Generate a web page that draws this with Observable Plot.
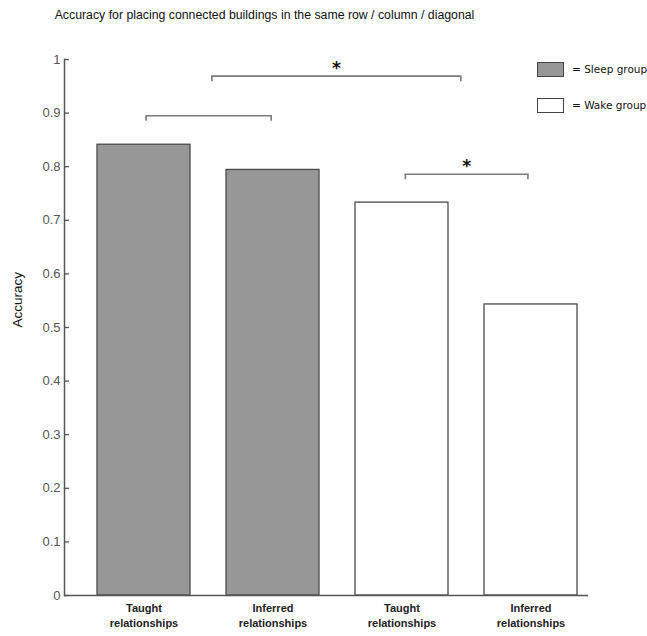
<!DOCTYPE html>
<html>
<head>
<meta charset="utf-8">
<script src="https://cdn.jsdelivr.net/npm/d3@7"></script>
<script src="https://cdn.jsdelivr.net/npm/@observablehq/plot@0.6"></script>
<style>
  html, body { margin: 0; padding: 0; background: #fff; }
  #wrap { position: relative; width: 647px; height: 636px; overflow: hidden; font-family: "Liberation Sans", Arial, sans-serif; }
  #title { position: absolute; left: 0; width: 529px; top: 8px; text-align: center; font-size: 12.3px; color: #111; }
  .leg { position: absolute; left: 537px; width: 27px; height: 15px; border: 1px solid #444; box-sizing: border-box; }
  .legt { position: absolute; left: 572px; font-family: "DejaVu Sans", sans-serif; font-size: 10.5px; color: #111; line-height: 15px; white-space: nowrap; }
  #chart { position: absolute; left: 0; top: 0; }
</style>
</head>
<body>
<div id="wrap">
  <div id="chart"></div>
  <div id="title">Accuracy for placing connected buildings in the same row / column / diagonal</div>
</div>
<script>
// ---- data ----
const keys = ["sleep-taught", "sleep-inferred", "wake-taught", "wake-inferred"];
const labels = ["Taught\nrelationships", "Inferred\nrelationships", "Taught\nrelationships", "Inferred\nrelationships"];
const groups = ["Sleep group", "Sleep group", "Wake group", "Wake group"];
const accuracy = [0.841, 0.794, 0.733, 0.543];
const yTicks = [0, 0.1, 0.2, 0.3, 0.4, 0.5, 0.6, 0.7, 0.8, 0.9, 1];
const legendGroups = ["Sleep group", "Wake group"];
const groupFill = ["#979797", "#ffffff"];
// significance brackets (positions in bar-index units)
const bracketFrom = [0.02, 0.53, 2.03];
const bracketTo = [0.99, 2.46, 2.98];
const bracketLevel = [0.894, 0.968, 0.785];
const bracketStar = [false, true, true];

const data = keys.map((k, i) => ({key: k, label: labels[i], group: groups[i], value: accuracy[i]}));
const labelOf = Object.fromEntries(keys.map((k, i) => [k, labels[i]]));

function brackets(index, scales, values, dimensions) {
  const xs = scales.x, ys = scales.y;
  const c0 = xs(keys[0]), step = xs(keys[1]) - xs(keys[0]);
  const bw = xs.bandwidth ? xs.bandwidth() : scales.scales.x.bandwidth;
  const px = p => c0 + bw / 2 + p * step;
  const g = d3.create("svg:g");
  bracketFrom.forEach((f, i) => {
    const x1 = px(f), x2 = px(bracketTo[i]), y = ys(bracketLevel[i]);
    g.append("path")
      .attr("d", `M${x1},${y + 5}V${y}H${x2}V${y + 5}`)
      .attr("fill", "none").attr("stroke", "#7a7a7a").attr("stroke-width", 1.6);
    if (bracketStar[i]) {
      g.append("text")
        .attr("x", (x1 + x2) / 2).attr("y", y - 2)
        .attr("text-anchor", "middle")
        .attr("font-family", "DejaVu Sans, sans-serif")
        .attr("font-weight", "bold").attr("font-size", 17).attr("fill", "#111")
        .text("*");
    }
  });
  return g.node();
}

const chart = Plot.plot({
  width: 647,
  height: 636,
  marginTop: 59,
  marginBottom: 41,
  marginLeft: 64,
  marginRight: 59,
  style: {fontFamily: "Liberation Sans, Arial, sans-serif", background: "transparent"},
  x: {domain: keys, paddingInner: 0.28, paddingOuter: 0.171, align: 0.75, label: null},
  y: {domain: [0, 1], label: null},
  marks: [
    Plot.barY(data, {x: "key", y: "value", fill: d => groupFill[legendGroups.indexOf(d.group)], stroke: "#4a4a4a", strokeWidth: 1.3}),
    Plot.frame({anchor: "left", stroke: "#555", strokeWidth: 1.5}),
    Plot.ruleY([0], {stroke: "#555", strokeWidth: 1.5}),
    Plot.axisY({ticks: yTicks, tickFormat: d => String(d), tickSize: 5, dx: 5, tickPadding: 4, fontSize: 13, fill: "#555", stroke: "#555", strokeWidth: 1.3, label: null}),
    Plot.axisX({tickSize: 0, tickPadding: 6, tickFormat: k => labelOf[k], fontSize: 11, fontWeight: "bold", fill: "#222", lineHeight: 1.35, label: null}),
    Plot.text(["Accuracy"], {frameAnchor: "left", rotate: -90, dx: -47, fontSize: 13.5, fill: "#111", text: d => d}),
    brackets
  ]
});
document.getElementById("chart").appendChild(chart);

// legend
const wrap = document.getElementById("wrap");
legendGroups.forEach((g, i) => {
  const top = 62 + i * 36;
  const box = document.createElement("div");
  box.className = "leg";
  box.style.top = top + "px";
  box.style.background = groupFill[i];
  wrap.appendChild(box);
  const t = document.createElement("div");
  t.className = "legt";
  t.style.top = top + "px";
  t.textContent = "= " + g;
  wrap.appendChild(t);
});
</script>
</body>
</html>
